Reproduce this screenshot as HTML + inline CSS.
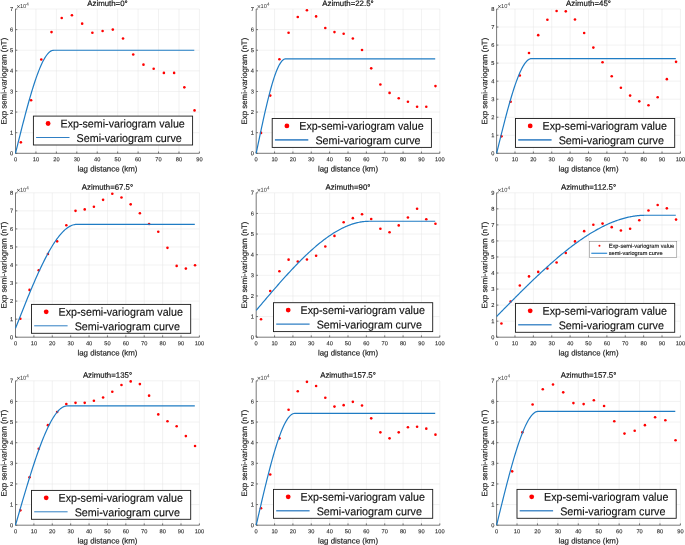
<!DOCTYPE html>
<html lang="en">
<head>
<meta charset="utf-8">
<title>Experimental semi-variograms by azimuth</title>
<style>
html,body{margin:0;padding:0;background:#fff;}
body{width:685px;height:545px;overflow:hidden;}
svg{display:block;will-change:transform;}
text{font-family:"Liberation Sans", Arial, sans-serif;fill:#262626;text-rendering:geometricPrecision;}
.tk{font-size:5.7px;stroke:#262626;stroke-width:0.1px;}
.ex{font-size:5.7px;fill:#333;}
.ti{font-size:7.85px;fill:#111;stroke:#111;stroke-width:0.18px;}
.lb{font-size:7.9px;stroke:#262626;stroke-width:0.18px;}
.lg{font-size:11.3px;fill:#111;stroke:#111;stroke-width:0.15px;}
.sl{font-size:5.6px;fill:#111;stroke:#111;stroke-width:0.14px;}
</style>
</head>
<body>
<svg width="685" height="545" viewBox="0 0 685 545">
<rect width="685" height="545" fill="#fff"/>
<g>
<path d="M35.93 9V153.3M56.37 9V153.3M76.8 9V153.3M97.23 9V153.3M117.67 9V153.3M138.1 9V153.3M158.53 9V153.3M178.97 9V153.3M199.4 9V153.3M15.5 132.69H199.4M15.5 112.07H199.4M15.5 91.46H199.4M15.5 70.84H199.4M15.5 50.23H199.4M15.5 29.61H199.4M15.5 9H199.4" stroke="#e4e4e4" stroke-width="0.5" fill="none"/>
<path d="M15.5 9V153.3H199.4M15.5 153.3v-1.8M35.93 153.3v-1.8M56.37 153.3v-1.8M76.8 153.3v-1.8M97.23 153.3v-1.8M117.67 153.3v-1.8M138.1 153.3v-1.8M158.53 153.3v-1.8M178.97 153.3v-1.8M199.4 153.3v-1.8M15.5 153.3h1.8M15.5 132.69h1.8M15.5 112.07h1.8M15.5 91.46h1.8M15.5 70.84h1.8M15.5 50.23h1.8M15.5 29.61h1.8M15.5 9h1.8" stroke="#555555" stroke-width="0.8" fill="none"/>
<text transform="translate(15.5 161.3) rotate(.03)" text-anchor="middle" class="tk">0</text>
<text transform="translate(35.93 161.3) rotate(.03)" text-anchor="middle" class="tk">10</text>
<text transform="translate(56.37 161.3) rotate(.03)" text-anchor="middle" class="tk">20</text>
<text transform="translate(76.8 161.3) rotate(.03)" text-anchor="middle" class="tk">30</text>
<text transform="translate(97.23 161.3) rotate(.03)" text-anchor="middle" class="tk">40</text>
<text transform="translate(117.67 161.3) rotate(.03)" text-anchor="middle" class="tk">50</text>
<text transform="translate(138.1 161.3) rotate(.03)" text-anchor="middle" class="tk">60</text>
<text transform="translate(158.53 161.3) rotate(.03)" text-anchor="middle" class="tk">70</text>
<text transform="translate(178.97 161.3) rotate(.03)" text-anchor="middle" class="tk">80</text>
<text transform="translate(199.4 161.3) rotate(.03)" text-anchor="middle" class="tk">90</text>
<text transform="translate(13.2 155.3) rotate(.03)" text-anchor="end" class="tk">0</text>
<text transform="translate(13.2 134.69) rotate(.03)" text-anchor="end" class="tk">1</text>
<text transform="translate(13.2 114.07) rotate(.03)" text-anchor="end" class="tk">2</text>
<text transform="translate(13.2 93.46) rotate(.03)" text-anchor="end" class="tk">3</text>
<text transform="translate(13.2 72.84) rotate(.03)" text-anchor="end" class="tk">4</text>
<text transform="translate(13.2 52.23) rotate(.03)" text-anchor="end" class="tk">5</text>
<text transform="translate(13.2 31.61) rotate(.03)" text-anchor="end" class="tk">6</text>
<text transform="translate(13.2 11) rotate(.03)" text-anchor="end" class="tk">7</text>
<text transform="translate(16.4 8) rotate(.03)" class="ex"><tspan font-size="6.6" dy="0.75">×</tspan><tspan dy="-0.75" dx="-0.35">10</tspan><tspan dy="-2.3" dx="0.1" font-size="4.6">4</tspan></text>
<text transform="translate(107.45 5.9) rotate(.03)" text-anchor="middle" class="ti">Azimuth=0°</text>
<text transform="translate(107.45 171.6) rotate(.03)" text-anchor="middle" class="lb">lag distance (km)</text>
<text transform="translate(6.5 81.15) rotate(-89.97)" text-anchor="middle" class="lb">Exp semi-variogram (nT)</text>
<circle cx="20.86" cy="142.37" r="1.3" fill="#ff0000"/>
<circle cx="31.08" cy="100.32" r="1.3" fill="#ff0000"/>
<circle cx="41.29" cy="59.5" r="1.3" fill="#ff0000"/>
<circle cx="51.51" cy="32.09" r="1.3" fill="#ff0000"/>
<circle cx="61.73" cy="18.07" r="1.3" fill="#ff0000"/>
<circle cx="71.94" cy="15.18" r="1.3" fill="#ff0000"/>
<circle cx="82.16" cy="23.64" r="1.3" fill="#ff0000"/>
<circle cx="92.38" cy="32.71" r="1.3" fill="#ff0000"/>
<circle cx="102.59" cy="31.06" r="1.3" fill="#ff0000"/>
<circle cx="112.81" cy="29.61" r="1.3" fill="#ff0000"/>
<circle cx="123.03" cy="38.48" r="1.3" fill="#ff0000"/>
<circle cx="133.24" cy="54.56" r="1.3" fill="#ff0000"/>
<circle cx="143.46" cy="64.66" r="1.3" fill="#ff0000"/>
<circle cx="153.68" cy="68.78" r="1.3" fill="#ff0000"/>
<circle cx="163.89" cy="72.9" r="1.3" fill="#ff0000"/>
<circle cx="174.11" cy="72.9" r="1.3" fill="#ff0000"/>
<circle cx="184.33" cy="87.33" r="1.3" fill="#ff0000"/>
<circle cx="194.54" cy="110.42" r="1.3" fill="#ff0000"/>
<polyline points="15.5,153.3 16.39,149.68 17.29,146.07 18.18,142.47 19.08,138.87 19.97,135.3 20.86,131.74 21.76,128.21 22.65,124.7 23.55,121.23 24.44,117.79 25.33,114.39 26.23,111.03 27.12,107.73 28.02,104.47 28.91,101.27 29.8,98.13 30.7,95.05 31.59,92.04 32.49,89.1 33.38,86.24 34.27,83.45 35.17,80.75 36.06,78.14 36.95,75.61 37.85,73.18 38.74,70.85 39.64,68.63 40.53,66.51 41.42,64.5 42.32,62.6 43.21,60.83 44.11,59.18 45,57.65 45.89,56.26 46.79,55 47.68,53.87 48.58,52.89 49.47,52.06 50.36,51.38 51.26,50.85 52.15,50.48 53.05,50.28 53.94,50.23 54.83,50.23 55.73,50.23 56.62,50.23 57.52,50.23 58.41,50.23 59.3,50.23 60.2,50.23 61.09,50.23 61.99,50.23 62.88,50.23 63.77,50.23 64.67,50.23 65.56,50.23 66.46,50.23 67.35,50.23 68.24,50.23 69.14,50.23 70.03,50.23 70.93,50.23 71.82,50.23 72.71,50.23 73.61,50.23 74.5,50.23 75.4,50.23 76.29,50.23 77.18,50.23 78.08,50.23 78.97,50.23 79.87,50.23 80.76,50.23 81.65,50.23 82.55,50.23 83.44,50.23 84.33,50.23 85.23,50.23 86.12,50.23 87.02,50.23 87.91,50.23 88.8,50.23 89.7,50.23 90.59,50.23 91.49,50.23 92.38,50.23 93.27,50.23 94.17,50.23 95.06,50.23 95.96,50.23 96.85,50.23 97.74,50.23 98.64,50.23 99.53,50.23 100.43,50.23 101.32,50.23 102.21,50.23 103.11,50.23 104,50.23 104.9,50.23 105.79,50.23 106.68,50.23 107.58,50.23 108.47,50.23 109.37,50.23 110.26,50.23 111.15,50.23 112.05,50.23 112.94,50.23 113.84,50.23 114.73,50.23 115.62,50.23 116.52,50.23 117.41,50.23 118.31,50.23 119.2,50.23 120.09,50.23 120.99,50.23 121.88,50.23 122.78,50.23 123.67,50.23 124.56,50.23 125.46,50.23 126.35,50.23 127.24,50.23 128.14,50.23 129.03,50.23 129.93,50.23 130.82,50.23 131.71,50.23 132.61,50.23 133.5,50.23 134.4,50.23 135.29,50.23 136.18,50.23 137.08,50.23 137.97,50.23 138.87,50.23 139.76,50.23 140.65,50.23 141.55,50.23 142.44,50.23 143.34,50.23 144.23,50.23 145.12,50.23 146.02,50.23 146.91,50.23 147.81,50.23 148.7,50.23 149.59,50.23 150.49,50.23 151.38,50.23 152.28,50.23 153.17,50.23 154.06,50.23 154.96,50.23 155.85,50.23 156.75,50.23 157.64,50.23 158.53,50.23 159.43,50.23 160.32,50.23 161.22,50.23 162.11,50.23 163,50.23 163.9,50.23 164.79,50.23 165.69,50.23 166.58,50.23 167.47,50.23 168.37,50.23 169.26,50.23 170.15,50.23 171.05,50.23 171.94,50.23 172.84,50.23 173.73,50.23 174.62,50.23 175.52,50.23 176.41,50.23 177.31,50.23 178.2,50.23 179.09,50.23 179.99,50.23 180.88,50.23 181.78,50.23 182.67,50.23 183.56,50.23 184.46,50.23 185.35,50.23 186.25,50.23 187.14,50.23 188.03,50.23 188.93,50.23 189.82,50.23 190.72,50.23 191.61,50.23 192.5,50.23 193.4,50.23 194.29,50.23" fill="none" stroke="#1f7cc4" stroke-width="1.2" stroke-linejoin="round"/>
<rect x="33.4" y="116.1" width="159.2" height="28.9" fill="#fff" stroke="#1a1a1a" stroke-width="0.9"/>
<circle cx="48.1" cy="123.5" r="2.4" fill="#ff0000"/>
<path d="M36.1 137.5h33.4" stroke="#2f7fc4" stroke-width="1.0"/>
<text transform="translate(60.5 127.4) rotate(.03)" class="lg" textLength="124.3" lengthAdjust="spacingAndGlyphs">Exp-semi-variogram value</text>
<text transform="translate(76.6 141.9) rotate(.03)" class="lg" textLength="105.2" lengthAdjust="spacingAndGlyphs">Semi-variogram curve</text>
</g>
<g>
<path d="M274.56 9V153.3M292.92 9V153.3M311.28 9V153.3M329.64 9V153.3M348 9V153.3M366.36 9V153.3M384.72 9V153.3M403.08 9V153.3M421.44 9V153.3M439.8 9V153.3M256.2 132.69H439.8M256.2 112.07H439.8M256.2 91.46H439.8M256.2 70.84H439.8M256.2 50.23H439.8M256.2 29.61H439.8M256.2 9H439.8" stroke="#e4e4e4" stroke-width="0.5" fill="none"/>
<path d="M256.2 9V153.3H439.8M256.2 153.3v-1.8M274.56 153.3v-1.8M292.92 153.3v-1.8M311.28 153.3v-1.8M329.64 153.3v-1.8M348 153.3v-1.8M366.36 153.3v-1.8M384.72 153.3v-1.8M403.08 153.3v-1.8M421.44 153.3v-1.8M439.8 153.3v-1.8M256.2 153.3h1.8M256.2 132.69h1.8M256.2 112.07h1.8M256.2 91.46h1.8M256.2 70.84h1.8M256.2 50.23h1.8M256.2 29.61h1.8M256.2 9h1.8" stroke="#555555" stroke-width="0.8" fill="none"/>
<text transform="translate(256.2 161.3) rotate(.03)" text-anchor="middle" class="tk">0</text>
<text transform="translate(274.56 161.3) rotate(.03)" text-anchor="middle" class="tk">10</text>
<text transform="translate(292.92 161.3) rotate(.03)" text-anchor="middle" class="tk">20</text>
<text transform="translate(311.28 161.3) rotate(.03)" text-anchor="middle" class="tk">30</text>
<text transform="translate(329.64 161.3) rotate(.03)" text-anchor="middle" class="tk">40</text>
<text transform="translate(348 161.3) rotate(.03)" text-anchor="middle" class="tk">50</text>
<text transform="translate(366.36 161.3) rotate(.03)" text-anchor="middle" class="tk">60</text>
<text transform="translate(384.72 161.3) rotate(.03)" text-anchor="middle" class="tk">70</text>
<text transform="translate(403.08 161.3) rotate(.03)" text-anchor="middle" class="tk">80</text>
<text transform="translate(421.44 161.3) rotate(.03)" text-anchor="middle" class="tk">90</text>
<text transform="translate(439.8 161.3) rotate(.03)" text-anchor="middle" class="tk">100</text>
<text transform="translate(253.9 155.3) rotate(.03)" text-anchor="end" class="tk">0</text>
<text transform="translate(253.9 134.69) rotate(.03)" text-anchor="end" class="tk">1</text>
<text transform="translate(253.9 114.07) rotate(.03)" text-anchor="end" class="tk">2</text>
<text transform="translate(253.9 93.46) rotate(.03)" text-anchor="end" class="tk">3</text>
<text transform="translate(253.9 72.84) rotate(.03)" text-anchor="end" class="tk">4</text>
<text transform="translate(253.9 52.23) rotate(.03)" text-anchor="end" class="tk">5</text>
<text transform="translate(253.9 31.61) rotate(.03)" text-anchor="end" class="tk">6</text>
<text transform="translate(253.9 11) rotate(.03)" text-anchor="end" class="tk">7</text>
<text transform="translate(257.1 8) rotate(.03)" class="ex"><tspan font-size="6.6" dy="0.75">×</tspan><tspan dy="-0.75" dx="-0.35">10</tspan><tspan dy="-2.3" dx="0.1" font-size="4.6">4</tspan></text>
<text transform="translate(348 5.9) rotate(.03)" text-anchor="middle" class="ti">Azimuth=22.5°</text>
<text transform="translate(348 171.6) rotate(.03)" text-anchor="middle" class="lb">lag distance (km)</text>
<text transform="translate(247.05 81.15) rotate(-89.97)" text-anchor="middle" class="lb">Exp semi-variogram (nT)</text>
<circle cx="261.04" cy="132.89" r="1.3" fill="#ff0000"/>
<circle cx="270.22" cy="95.58" r="1.3" fill="#ff0000"/>
<circle cx="279.4" cy="59.3" r="1.3" fill="#ff0000"/>
<circle cx="288.58" cy="32.71" r="1.3" fill="#ff0000"/>
<circle cx="297.76" cy="17.04" r="1.3" fill="#ff0000"/>
<circle cx="306.94" cy="10.24" r="1.3" fill="#ff0000"/>
<circle cx="316.12" cy="16.42" r="1.3" fill="#ff0000"/>
<circle cx="325.3" cy="27.97" r="1.3" fill="#ff0000"/>
<circle cx="334.48" cy="32.09" r="1.3" fill="#ff0000"/>
<circle cx="343.66" cy="33.74" r="1.3" fill="#ff0000"/>
<circle cx="352.84" cy="38.48" r="1.3" fill="#ff0000"/>
<circle cx="362.02" cy="50.02" r="1.3" fill="#ff0000"/>
<circle cx="371.2" cy="68.37" r="1.3" fill="#ff0000"/>
<circle cx="380.38" cy="84.45" r="1.3" fill="#ff0000"/>
<circle cx="389.56" cy="92.9" r="1.3" fill="#ff0000"/>
<circle cx="398.74" cy="98.26" r="1.3" fill="#ff0000"/>
<circle cx="407.92" cy="101.76" r="1.3" fill="#ff0000"/>
<circle cx="417.1" cy="106.71" r="1.3" fill="#ff0000"/>
<circle cx="426.28" cy="106.71" r="1.3" fill="#ff0000"/>
<circle cx="435.46" cy="86.1" r="1.3" fill="#ff0000"/>
<polyline points="256.2,153.3 257.1,148.99 257.99,144.68 258.89,140.39 259.78,136.13 260.68,131.89 261.57,127.7 262.47,123.55 263.36,119.46 264.26,115.44 265.15,111.49 266.05,107.61 266.94,103.83 267.84,100.14 268.73,96.55 269.63,93.08 270.52,89.73 271.42,86.51 272.31,83.42 273.21,80.47 274.1,77.68 275,75.05 275.89,72.59 276.79,70.3 277.68,68.2 278.58,66.29 279.47,64.58 280.37,63.08 281.26,61.79 282.16,60.73 283.05,59.9 283.95,59.31 284.84,58.97 285.74,58.89 286.63,58.89 287.53,58.89 288.42,58.89 289.32,58.89 290.21,58.89 291.11,58.89 292,58.89 292.9,58.89 293.79,58.89 294.69,58.89 295.58,58.89 296.48,58.89 297.37,58.89 298.27,58.89 299.16,58.89 300.06,58.89 300.95,58.89 301.85,58.89 302.74,58.89 303.64,58.89 304.53,58.89 305.43,58.89 306.32,58.89 307.22,58.89 308.11,58.89 309.01,58.89 309.9,58.89 310.8,58.89 311.69,58.89 312.59,58.89 313.48,58.89 314.38,58.89 315.27,58.89 316.17,58.89 317.06,58.89 317.96,58.89 318.85,58.89 319.75,58.89 320.64,58.89 321.54,58.89 322.43,58.89 323.33,58.89 324.22,58.89 325.12,58.89 326.01,58.89 326.91,58.89 327.8,58.89 328.7,58.89 329.59,58.89 330.49,58.89 331.38,58.89 332.28,58.89 333.17,58.89 334.07,58.89 334.96,58.89 335.86,58.89 336.75,58.89 337.65,58.89 338.54,58.89 339.44,58.89 340.33,58.89 341.23,58.89 342.12,58.89 343.02,58.89 343.91,58.89 344.81,58.89 345.7,58.89 346.6,58.89 347.5,58.89 348.39,58.89 349.29,58.89 350.18,58.89 351.08,58.89 351.97,58.89 352.87,58.89 353.76,58.89 354.66,58.89 355.55,58.89 356.45,58.89 357.34,58.89 358.24,58.89 359.13,58.89 360.03,58.89 360.92,58.89 361.82,58.89 362.71,58.89 363.61,58.89 364.5,58.89 365.4,58.89 366.29,58.89 367.19,58.89 368.08,58.89 368.98,58.89 369.87,58.89 370.77,58.89 371.66,58.89 372.56,58.89 373.45,58.89 374.35,58.89 375.24,58.89 376.14,58.89 377.03,58.89 377.93,58.89 378.82,58.89 379.72,58.89 380.61,58.89 381.51,58.89 382.4,58.89 383.3,58.89 384.19,58.89 385.09,58.89 385.98,58.89 386.88,58.89 387.77,58.89 388.67,58.89 389.56,58.89 390.46,58.89 391.35,58.89 392.25,58.89 393.14,58.89 394.04,58.89 394.93,58.89 395.83,58.89 396.72,58.89 397.62,58.89 398.51,58.89 399.41,58.89 400.3,58.89 401.2,58.89 402.09,58.89 402.99,58.89 403.88,58.89 404.78,58.89 405.67,58.89 406.57,58.89 407.46,58.89 408.36,58.89 409.25,58.89 410.15,58.89 411.04,58.89 411.94,58.89 412.83,58.89 413.73,58.89 414.62,58.89 415.52,58.89 416.41,58.89 417.31,58.89 418.2,58.89 419.1,58.89 419.99,58.89 420.89,58.89 421.78,58.89 422.68,58.89 423.57,58.89 424.47,58.89 425.36,58.89 426.26,58.89 427.15,58.89 428.05,58.89 428.94,58.89 429.84,58.89 430.73,58.89 431.63,58.89 432.52,58.89 433.42,58.89 434.31,58.89 435.21,58.89" fill="none" stroke="#1f7cc4" stroke-width="1.2" stroke-linejoin="round"/>
<rect x="272.2" y="118.5" width="159.2" height="28.9" fill="#fff" stroke="#1a1a1a" stroke-width="0.9"/>
<circle cx="286.9" cy="125.9" r="2.4" fill="#ff0000"/>
<path d="M274.9 139.9h33.4" stroke="#4d8fcb" stroke-width="1.7"/>
<text transform="translate(299.3 129.8) rotate(.03)" class="lg" textLength="124.3" lengthAdjust="spacingAndGlyphs">Exp-semi-variogram value</text>
<text transform="translate(315.4 144.3) rotate(.03)" class="lg" textLength="105.2" lengthAdjust="spacingAndGlyphs">Semi-variogram curve</text>
</g>
<g>
<path d="M514.98 9V153.3M533.36 9V153.3M551.74 9V153.3M570.12 9V153.3M588.5 9V153.3M606.88 9V153.3M625.26 9V153.3M643.64 9V153.3M662.02 9V153.3M680.4 9V153.3M496.6 135.26H680.4M496.6 117.23H680.4M496.6 99.19H680.4M496.6 81.15H680.4M496.6 63.11H680.4M496.6 45.08H680.4M496.6 27.04H680.4M496.6 9H680.4" stroke="#e4e4e4" stroke-width="0.5" fill="none"/>
<path d="M496.6 9V153.3H680.4M496.6 153.3v-1.8M514.98 153.3v-1.8M533.36 153.3v-1.8M551.74 153.3v-1.8M570.12 153.3v-1.8M588.5 153.3v-1.8M606.88 153.3v-1.8M625.26 153.3v-1.8M643.64 153.3v-1.8M662.02 153.3v-1.8M680.4 153.3v-1.8M496.6 153.3h1.8M496.6 135.26h1.8M496.6 117.23h1.8M496.6 99.19h1.8M496.6 81.15h1.8M496.6 63.11h1.8M496.6 45.08h1.8M496.6 27.04h1.8M496.6 9h1.8" stroke="#555555" stroke-width="0.8" fill="none"/>
<text transform="translate(496.6 161.3) rotate(.03)" text-anchor="middle" class="tk">0</text>
<text transform="translate(514.98 161.3) rotate(.03)" text-anchor="middle" class="tk">10</text>
<text transform="translate(533.36 161.3) rotate(.03)" text-anchor="middle" class="tk">20</text>
<text transform="translate(551.74 161.3) rotate(.03)" text-anchor="middle" class="tk">30</text>
<text transform="translate(570.12 161.3) rotate(.03)" text-anchor="middle" class="tk">40</text>
<text transform="translate(588.5 161.3) rotate(.03)" text-anchor="middle" class="tk">50</text>
<text transform="translate(606.88 161.3) rotate(.03)" text-anchor="middle" class="tk">60</text>
<text transform="translate(625.26 161.3) rotate(.03)" text-anchor="middle" class="tk">70</text>
<text transform="translate(643.64 161.3) rotate(.03)" text-anchor="middle" class="tk">80</text>
<text transform="translate(662.02 161.3) rotate(.03)" text-anchor="middle" class="tk">90</text>
<text transform="translate(680.4 161.3) rotate(.03)" text-anchor="middle" class="tk">100</text>
<text transform="translate(494.3 155.3) rotate(.03)" text-anchor="end" class="tk">0</text>
<text transform="translate(494.3 137.26) rotate(.03)" text-anchor="end" class="tk">1</text>
<text transform="translate(494.3 119.23) rotate(.03)" text-anchor="end" class="tk">2</text>
<text transform="translate(494.3 101.19) rotate(.03)" text-anchor="end" class="tk">3</text>
<text transform="translate(494.3 83.15) rotate(.03)" text-anchor="end" class="tk">4</text>
<text transform="translate(494.3 65.11) rotate(.03)" text-anchor="end" class="tk">5</text>
<text transform="translate(494.3 47.08) rotate(.03)" text-anchor="end" class="tk">6</text>
<text transform="translate(494.3 29.04) rotate(.03)" text-anchor="end" class="tk">7</text>
<text transform="translate(494.3 11) rotate(.03)" text-anchor="end" class="tk">8</text>
<text transform="translate(497.5 8) rotate(.03)" class="ex"><tspan font-size="6.6" dy="0.75">×</tspan><tspan dy="-0.75" dx="-0.35">10</tspan><tspan dy="-2.3" dx="0.1" font-size="4.6">4</tspan></text>
<text transform="translate(588.5 5.9) rotate(.03)" text-anchor="middle" class="ti">Azimuth=45°</text>
<text transform="translate(588.5 171.6) rotate(.03)" text-anchor="middle" class="lb">lag distance (km)</text>
<text transform="translate(487.2 81.15) rotate(-89.97)" text-anchor="middle" class="lb">Exp semi-variogram (nT)</text>
<circle cx="501.45" cy="136.34" r="1.3" fill="#ff0000"/>
<circle cx="510.63" cy="101.71" r="1.3" fill="#ff0000"/>
<circle cx="519.83" cy="75.56" r="1.3" fill="#ff0000"/>
<circle cx="529.01" cy="53.01" r="1.3" fill="#ff0000"/>
<circle cx="538.21" cy="35.15" r="1.3" fill="#ff0000"/>
<circle cx="547.39" cy="19.82" r="1.3" fill="#ff0000"/>
<circle cx="556.59" cy="10.98" r="1.3" fill="#ff0000"/>
<circle cx="565.77" cy="11.34" r="1.3" fill="#ff0000"/>
<circle cx="574.97" cy="19.46" r="1.3" fill="#ff0000"/>
<circle cx="584.15" cy="32.99" r="1.3" fill="#ff0000"/>
<circle cx="593.35" cy="47.6" r="1.3" fill="#ff0000"/>
<circle cx="602.53" cy="62.21" r="1.3" fill="#ff0000"/>
<circle cx="611.73" cy="76.28" r="1.3" fill="#ff0000"/>
<circle cx="620.91" cy="87.82" r="1.3" fill="#ff0000"/>
<circle cx="630.11" cy="95.58" r="1.3" fill="#ff0000"/>
<circle cx="639.29" cy="101.35" r="1.3" fill="#ff0000"/>
<circle cx="648.49" cy="105.32" r="1.3" fill="#ff0000"/>
<circle cx="657.67" cy="97.2" r="1.3" fill="#ff0000"/>
<circle cx="666.87" cy="79.17" r="1.3" fill="#ff0000"/>
<circle cx="676.05" cy="61.85" r="1.3" fill="#ff0000"/>
<polyline points="496.6,153.3 497.5,149.66 498.39,146.02 499.29,142.39 500.18,138.77 501.08,135.18 501.98,131.61 502.87,128.06 503.77,124.55 504.66,121.08 505.56,117.65 506.46,114.27 507.35,110.95 508.25,107.68 509.14,104.47 510.04,101.33 510.94,98.26 511.83,95.27 512.73,92.36 513.62,89.54 514.52,86.81 515.42,84.17 516.31,81.64 517.21,79.21 518.1,76.89 519,74.68 519.9,72.6 520.79,70.64 521.69,68.81 522.58,67.11 523.48,65.56 524.38,64.14 525.27,62.88 526.17,61.77 527.06,60.82 527.96,60.03 528.86,59.41 529.75,58.96 530.65,58.69 531.54,58.6 532.44,58.6 533.34,58.6 534.23,58.6 535.13,58.6 536.03,58.6 536.92,58.6 537.82,58.6 538.71,58.6 539.61,58.6 540.51,58.6 541.4,58.6 542.3,58.6 543.19,58.6 544.09,58.6 544.99,58.6 545.88,58.6 546.78,58.6 547.67,58.6 548.57,58.6 549.47,58.6 550.36,58.6 551.26,58.6 552.15,58.6 553.05,58.6 553.95,58.6 554.84,58.6 555.74,58.6 556.63,58.6 557.53,58.6 558.43,58.6 559.32,58.6 560.22,58.6 561.11,58.6 562.01,58.6 562.91,58.6 563.8,58.6 564.7,58.6 565.59,58.6 566.49,58.6 567.39,58.6 568.28,58.6 569.18,58.6 570.07,58.6 570.97,58.6 571.87,58.6 572.76,58.6 573.66,58.6 574.55,58.6 575.45,58.6 576.35,58.6 577.24,58.6 578.14,58.6 579.03,58.6 579.93,58.6 580.83,58.6 581.72,58.6 582.62,58.6 583.51,58.6 584.41,58.6 585.31,58.6 586.2,58.6 587.1,58.6 587.99,58.6 588.89,58.6 589.79,58.6 590.68,58.6 591.58,58.6 592.47,58.6 593.37,58.6 594.27,58.6 595.16,58.6 596.06,58.6 596.95,58.6 597.85,58.6 598.75,58.6 599.64,58.6 600.54,58.6 601.43,58.6 602.33,58.6 603.23,58.6 604.12,58.6 605.02,58.6 605.92,58.6 606.81,58.6 607.71,58.6 608.6,58.6 609.5,58.6 610.4,58.6 611.29,58.6 612.19,58.6 613.08,58.6 613.98,58.6 614.88,58.6 615.77,58.6 616.67,58.6 617.56,58.6 618.46,58.6 619.36,58.6 620.25,58.6 621.15,58.6 622.04,58.6 622.94,58.6 623.84,58.6 624.73,58.6 625.63,58.6 626.52,58.6 627.42,58.6 628.32,58.6 629.21,58.6 630.11,58.6 631,58.6 631.9,58.6 632.8,58.6 633.69,58.6 634.59,58.6 635.48,58.6 636.38,58.6 637.28,58.6 638.17,58.6 639.07,58.6 639.96,58.6 640.86,58.6 641.76,58.6 642.65,58.6 643.55,58.6 644.44,58.6 645.34,58.6 646.24,58.6 647.13,58.6 648.03,58.6 648.92,58.6 649.82,58.6 650.72,58.6 651.61,58.6 652.51,58.6 653.4,58.6 654.3,58.6 655.2,58.6 656.09,58.6 656.99,58.6 657.88,58.6 658.78,58.6 659.68,58.6 660.57,58.6 661.47,58.6 662.36,58.6 663.26,58.6 664.16,58.6 665.05,58.6 665.95,58.6 666.84,58.6 667.74,58.6 668.64,58.6 669.53,58.6 670.43,58.6 671.32,58.6 672.22,58.6 673.12,58.6 674.01,58.6 674.91,58.6 675.8,58.6" fill="none" stroke="#1f7cc4" stroke-width="1.2" stroke-linejoin="round"/>
<rect x="515.5" y="118.5" width="159.2" height="28.9" fill="#fff" stroke="#1a1a1a" stroke-width="0.9"/>
<circle cx="530.2" cy="125.9" r="2.4" fill="#ff0000"/>
<path d="M518.2 139.9h33.4" stroke="#4d8fcb" stroke-width="1.7"/>
<text transform="translate(542.6 129.8) rotate(.03)" class="lg" textLength="124.3" lengthAdjust="spacingAndGlyphs">Exp-semi-variogram value</text>
<text transform="translate(558.7 144.3) rotate(.03)" class="lg" textLength="105.2" lengthAdjust="spacingAndGlyphs">Semi-variogram curve</text>
</g>
<g>
<path d="M33.89 192.8V337.2M52.28 192.8V337.2M70.67 192.8V337.2M89.06 192.8V337.2M107.45 192.8V337.2M125.84 192.8V337.2M144.23 192.8V337.2M162.62 192.8V337.2M181.01 192.8V337.2M199.4 192.8V337.2M15.5 319.15H199.4M15.5 301.1H199.4M15.5 283.05H199.4M15.5 265H199.4M15.5 246.95H199.4M15.5 228.9H199.4M15.5 210.85H199.4M15.5 192.8H199.4" stroke="#e4e4e4" stroke-width="0.5" fill="none"/>
<path d="M15.5 192.8V337.2H199.4M15.5 337.2v-1.8M33.89 337.2v-1.8M52.28 337.2v-1.8M70.67 337.2v-1.8M89.06 337.2v-1.8M107.45 337.2v-1.8M125.84 337.2v-1.8M144.23 337.2v-1.8M162.62 337.2v-1.8M181.01 337.2v-1.8M199.4 337.2v-1.8M15.5 337.2h1.8M15.5 319.15h1.8M15.5 301.1h1.8M15.5 283.05h1.8M15.5 265h1.8M15.5 246.95h1.8M15.5 228.9h1.8M15.5 210.85h1.8M15.5 192.8h1.8" stroke="#555555" stroke-width="0.8" fill="none"/>
<text transform="translate(15.5 345.2) rotate(.03)" text-anchor="middle" class="tk">0</text>
<text transform="translate(33.89 345.2) rotate(.03)" text-anchor="middle" class="tk">10</text>
<text transform="translate(52.28 345.2) rotate(.03)" text-anchor="middle" class="tk">20</text>
<text transform="translate(70.67 345.2) rotate(.03)" text-anchor="middle" class="tk">30</text>
<text transform="translate(89.06 345.2) rotate(.03)" text-anchor="middle" class="tk">40</text>
<text transform="translate(107.45 345.2) rotate(.03)" text-anchor="middle" class="tk">50</text>
<text transform="translate(125.84 345.2) rotate(.03)" text-anchor="middle" class="tk">60</text>
<text transform="translate(144.23 345.2) rotate(.03)" text-anchor="middle" class="tk">70</text>
<text transform="translate(162.62 345.2) rotate(.03)" text-anchor="middle" class="tk">80</text>
<text transform="translate(181.01 345.2) rotate(.03)" text-anchor="middle" class="tk">90</text>
<text transform="translate(199.4 345.2) rotate(.03)" text-anchor="middle" class="tk">100</text>
<text transform="translate(13.2 339.2) rotate(.03)" text-anchor="end" class="tk">0</text>
<text transform="translate(13.2 321.15) rotate(.03)" text-anchor="end" class="tk">1</text>
<text transform="translate(13.2 303.1) rotate(.03)" text-anchor="end" class="tk">2</text>
<text transform="translate(13.2 285.05) rotate(.03)" text-anchor="end" class="tk">3</text>
<text transform="translate(13.2 267) rotate(.03)" text-anchor="end" class="tk">4</text>
<text transform="translate(13.2 248.95) rotate(.03)" text-anchor="end" class="tk">5</text>
<text transform="translate(13.2 230.9) rotate(.03)" text-anchor="end" class="tk">6</text>
<text transform="translate(13.2 212.85) rotate(.03)" text-anchor="end" class="tk">7</text>
<text transform="translate(13.2 194.8) rotate(.03)" text-anchor="end" class="tk">8</text>
<text transform="translate(16.4 191.8) rotate(.03)" class="ex"><tspan font-size="6.6" dy="0.75">×</tspan><tspan dy="-0.75" dx="-0.35">10</tspan><tspan dy="-2.3" dx="0.1" font-size="4.6">4</tspan></text>
<text transform="translate(107.45 189.7) rotate(.03)" text-anchor="middle" class="ti">Azimuth=67.5°</text>
<text transform="translate(107.45 355.5) rotate(.03)" text-anchor="middle" class="lb">lag distance (km)</text>
<text transform="translate(6.5 265) rotate(-89.97)" text-anchor="middle" class="lb">Exp semi-variogram (nT)</text>
<circle cx="20.35" cy="318.79" r="1.3" fill="#ff0000"/>
<circle cx="29.54" cy="289.91" r="1.3" fill="#ff0000"/>
<circle cx="38.74" cy="270.23" r="1.3" fill="#ff0000"/>
<circle cx="47.93" cy="253.99" r="1.3" fill="#ff0000"/>
<circle cx="57.13" cy="241.35" r="1.3" fill="#ff0000"/>
<circle cx="66.32" cy="225.29" r="1.3" fill="#ff0000"/>
<circle cx="75.52" cy="210.85" r="1.3" fill="#ff0000"/>
<circle cx="84.71" cy="209.41" r="1.3" fill="#ff0000"/>
<circle cx="93.91" cy="206.7" r="1.3" fill="#ff0000"/>
<circle cx="103.1" cy="199.84" r="1.3" fill="#ff0000"/>
<circle cx="112.3" cy="193.7" r="1.3" fill="#ff0000"/>
<circle cx="121.49" cy="197.49" r="1.3" fill="#ff0000"/>
<circle cx="130.69" cy="204.35" r="1.3" fill="#ff0000"/>
<circle cx="139.88" cy="213.2" r="1.3" fill="#ff0000"/>
<circle cx="149.08" cy="224.03" r="1.3" fill="#ff0000"/>
<circle cx="158.27" cy="231.79" r="1.3" fill="#ff0000"/>
<circle cx="167.47" cy="247.85" r="1.3" fill="#ff0000"/>
<circle cx="176.66" cy="265.9" r="1.3" fill="#ff0000"/>
<circle cx="185.86" cy="268.61" r="1.3" fill="#ff0000"/>
<circle cx="195.05" cy="265.18" r="1.3" fill="#ff0000"/>
<polyline points="15.5,328.36 16.4,326.07 17.29,323.79 18.19,321.51 19.09,319.23 19.98,316.96 20.88,314.69 21.78,312.43 22.67,310.17 23.57,307.93 24.47,305.69 25.36,303.46 26.26,301.24 27.15,299.03 28.05,296.84 28.95,294.66 29.84,292.49 30.74,290.34 31.64,288.21 32.53,286.1 33.43,284 34.33,281.92 35.22,279.86 36.12,277.83 37.02,275.82 37.91,273.83 38.81,271.86 39.71,269.92 40.6,268.01 41.5,266.12 42.4,264.27 43.29,262.44 44.19,260.64 45.08,258.88 45.98,257.14 46.88,255.44 47.77,253.77 48.67,252.14 49.57,250.55 50.46,248.99 51.36,247.47 52.26,245.99 53.15,244.55 54.05,243.15 54.95,241.79 55.84,240.48 56.74,239.21 57.64,237.98 58.53,236.81 59.43,235.67 60.33,234.59 61.22,233.55 62.12,232.57 63.02,231.63 63.91,230.75 64.81,229.92 65.7,229.15 66.6,228.43 67.5,227.76 68.39,227.15 69.29,226.6 70.19,226.11 71.08,225.68 71.98,225.3 72.88,224.99 73.77,224.75 74.67,224.56 75.57,224.44 76.46,224.39 77.36,224.39 78.26,224.39 79.15,224.39 80.05,224.39 80.95,224.39 81.84,224.39 82.74,224.39 83.63,224.39 84.53,224.39 85.43,224.39 86.32,224.39 87.22,224.39 88.12,224.39 89.01,224.39 89.91,224.39 90.81,224.39 91.7,224.39 92.6,224.39 93.5,224.39 94.39,224.39 95.29,224.39 96.19,224.39 97.08,224.39 97.98,224.39 98.88,224.39 99.77,224.39 100.67,224.39 101.57,224.39 102.46,224.39 103.36,224.39 104.25,224.39 105.15,224.39 106.05,224.39 106.94,224.39 107.84,224.39 108.74,224.39 109.63,224.39 110.53,224.39 111.43,224.39 112.32,224.39 113.22,224.39 114.12,224.39 115.01,224.39 115.91,224.39 116.81,224.39 117.7,224.39 118.6,224.39 119.5,224.39 120.39,224.39 121.29,224.39 122.18,224.39 123.08,224.39 123.98,224.39 124.87,224.39 125.77,224.39 126.67,224.39 127.56,224.39 128.46,224.39 129.36,224.39 130.25,224.39 131.15,224.39 132.05,224.39 132.94,224.39 133.84,224.39 134.74,224.39 135.63,224.39 136.53,224.39 137.43,224.39 138.32,224.39 139.22,224.39 140.12,224.39 141.01,224.39 141.91,224.39 142.8,224.39 143.7,224.39 144.6,224.39 145.49,224.39 146.39,224.39 147.29,224.39 148.18,224.39 149.08,224.39 149.98,224.39 150.87,224.39 151.77,224.39 152.67,224.39 153.56,224.39 154.46,224.39 155.36,224.39 156.25,224.39 157.15,224.39 158.05,224.39 158.94,224.39 159.84,224.39 160.74,224.39 161.63,224.39 162.53,224.39 163.42,224.39 164.32,224.39 165.22,224.39 166.11,224.39 167.01,224.39 167.91,224.39 168.8,224.39 169.7,224.39 170.6,224.39 171.49,224.39 172.39,224.39 173.29,224.39 174.18,224.39 175.08,224.39 175.98,224.39 176.87,224.39 177.77,224.39 178.67,224.39 179.56,224.39 180.46,224.39 181.35,224.39 182.25,224.39 183.15,224.39 184.04,224.39 184.94,224.39 185.84,224.39 186.73,224.39 187.63,224.39 188.53,224.39 189.42,224.39 190.32,224.39 191.22,224.39 192.11,224.39 193.01,224.39 193.91,224.39 194.8,224.39" fill="none" stroke="#1f7cc4" stroke-width="1.2" stroke-linejoin="round"/>
<rect x="31.5" y="304.4" width="159.2" height="28.9" fill="#fff" stroke="#1a1a1a" stroke-width="0.9"/>
<circle cx="46.2" cy="311.8" r="2.4" fill="#ff0000"/>
<path d="M34.2 325.8h33.4" stroke="#2f7fc4" stroke-width="1.0"/>
<text transform="translate(58.6 315.7) rotate(.03)" class="lg" textLength="124.3" lengthAdjust="spacingAndGlyphs">Exp-semi-variogram value</text>
<text transform="translate(74.7 330.2) rotate(.03)" class="lg" textLength="105.2" lengthAdjust="spacingAndGlyphs">Semi-variogram curve</text>
</g>
<g>
<path d="M274.56 192.8V337.2M292.92 192.8V337.2M311.28 192.8V337.2M329.64 192.8V337.2M348 192.8V337.2M366.36 192.8V337.2M384.72 192.8V337.2M403.08 192.8V337.2M421.44 192.8V337.2M439.8 192.8V337.2M256.2 316.57H439.8M256.2 295.94H439.8M256.2 275.31H439.8M256.2 254.69H439.8M256.2 234.06H439.8M256.2 213.43H439.8M256.2 192.8H439.8" stroke="#e4e4e4" stroke-width="0.5" fill="none"/>
<path d="M256.2 192.8V337.2H439.8M256.2 337.2v-1.8M274.56 337.2v-1.8M292.92 337.2v-1.8M311.28 337.2v-1.8M329.64 337.2v-1.8M348 337.2v-1.8M366.36 337.2v-1.8M384.72 337.2v-1.8M403.08 337.2v-1.8M421.44 337.2v-1.8M439.8 337.2v-1.8M256.2 337.2h1.8M256.2 316.57h1.8M256.2 295.94h1.8M256.2 275.31h1.8M256.2 254.69h1.8M256.2 234.06h1.8M256.2 213.43h1.8M256.2 192.8h1.8" stroke="#555555" stroke-width="0.8" fill="none"/>
<text transform="translate(256.2 345.2) rotate(.03)" text-anchor="middle" class="tk">0</text>
<text transform="translate(274.56 345.2) rotate(.03)" text-anchor="middle" class="tk">10</text>
<text transform="translate(292.92 345.2) rotate(.03)" text-anchor="middle" class="tk">20</text>
<text transform="translate(311.28 345.2) rotate(.03)" text-anchor="middle" class="tk">30</text>
<text transform="translate(329.64 345.2) rotate(.03)" text-anchor="middle" class="tk">40</text>
<text transform="translate(348 345.2) rotate(.03)" text-anchor="middle" class="tk">50</text>
<text transform="translate(366.36 345.2) rotate(.03)" text-anchor="middle" class="tk">60</text>
<text transform="translate(384.72 345.2) rotate(.03)" text-anchor="middle" class="tk">70</text>
<text transform="translate(403.08 345.2) rotate(.03)" text-anchor="middle" class="tk">80</text>
<text transform="translate(421.44 345.2) rotate(.03)" text-anchor="middle" class="tk">90</text>
<text transform="translate(439.8 345.2) rotate(.03)" text-anchor="middle" class="tk">100</text>
<text transform="translate(253.9 339.2) rotate(.03)" text-anchor="end" class="tk">0</text>
<text transform="translate(253.9 318.57) rotate(.03)" text-anchor="end" class="tk">1</text>
<text transform="translate(253.9 297.94) rotate(.03)" text-anchor="end" class="tk">2</text>
<text transform="translate(253.9 277.31) rotate(.03)" text-anchor="end" class="tk">3</text>
<text transform="translate(253.9 256.69) rotate(.03)" text-anchor="end" class="tk">4</text>
<text transform="translate(253.9 236.06) rotate(.03)" text-anchor="end" class="tk">5</text>
<text transform="translate(253.9 215.43) rotate(.03)" text-anchor="end" class="tk">6</text>
<text transform="translate(253.9 194.8) rotate(.03)" text-anchor="end" class="tk">7</text>
<text transform="translate(257.1 191.8) rotate(.03)" class="ex"><tspan font-size="6.6" dy="0.75">×</tspan><tspan dy="-0.75" dx="-0.35">10</tspan><tspan dy="-2.3" dx="0.1" font-size="4.6">4</tspan></text>
<text transform="translate(348 189.7) rotate(.03)" text-anchor="middle" class="ti">Azimuth=90°</text>
<text transform="translate(348 355.5) rotate(.03)" text-anchor="middle" class="lb">lag distance (km)</text>
<text transform="translate(247.05 265) rotate(-89.97)" text-anchor="middle" class="lb">Exp semi-variogram (nT)</text>
<circle cx="261.04" cy="319.25" r="1.3" fill="#ff0000"/>
<circle cx="270.22" cy="290.99" r="1.3" fill="#ff0000"/>
<circle cx="279.4" cy="271.19" r="1.3" fill="#ff0000"/>
<circle cx="288.58" cy="259.64" r="1.3" fill="#ff0000"/>
<circle cx="297.76" cy="261.49" r="1.3" fill="#ff0000"/>
<circle cx="306.94" cy="259.43" r="1.3" fill="#ff0000"/>
<circle cx="316.12" cy="255.72" r="1.3" fill="#ff0000"/>
<circle cx="325.3" cy="246.43" r="1.3" fill="#ff0000"/>
<circle cx="334.48" cy="235.91" r="1.3" fill="#ff0000"/>
<circle cx="343.66" cy="222.3" r="1.3" fill="#ff0000"/>
<circle cx="352.84" cy="218.17" r="1.3" fill="#ff0000"/>
<circle cx="362.02" cy="214.25" r="1.3" fill="#ff0000"/>
<circle cx="371.2" cy="219" r="1.3" fill="#ff0000"/>
<circle cx="380.38" cy="228.69" r="1.3" fill="#ff0000"/>
<circle cx="389.56" cy="232.2" r="1.3" fill="#ff0000"/>
<circle cx="398.74" cy="225.39" r="1.3" fill="#ff0000"/>
<circle cx="407.92" cy="217.55" r="1.3" fill="#ff0000"/>
<circle cx="417.1" cy="208.68" r="1.3" fill="#ff0000"/>
<circle cx="426.28" cy="219.2" r="1.3" fill="#ff0000"/>
<circle cx="435.46" cy="223.74" r="1.3" fill="#ff0000"/>
<polyline points="256.2,310.38 257.1,309.32 257.99,308.26 258.89,307.2 259.78,306.15 260.68,305.09 261.57,304.03 262.47,302.97 263.36,301.92 264.26,300.86 265.15,299.81 266.05,298.76 266.94,297.71 267.84,296.66 268.73,295.61 269.63,294.56 270.52,293.52 271.42,292.48 272.31,291.44 273.21,290.4 274.1,289.37 275,288.34 275.89,287.31 276.79,286.28 277.68,285.26 278.58,284.24 279.47,283.22 280.37,282.21 281.26,281.2 282.16,280.2 283.05,279.19 283.95,278.2 284.84,277.2 285.74,276.21 286.63,275.23 287.53,274.25 288.42,273.27 289.32,272.3 290.21,271.34 291.11,270.37 292,269.42 292.9,268.47 293.79,267.52 294.69,266.58 295.58,265.65 296.48,264.72 297.37,263.8 298.27,262.89 299.16,261.98 300.06,261.07 300.95,260.18 301.85,259.29 302.74,258.4 303.64,257.53 304.53,256.66 305.43,255.8 306.32,254.94 307.22,254.1 308.11,253.26 309.01,252.42 309.9,251.6 310.8,250.78 311.69,249.98 312.59,249.18 313.48,248.39 314.38,247.6 315.27,246.83 316.17,246.06 317.06,245.31 317.96,244.56 318.85,243.82 319.75,243.09 320.64,242.37 321.54,241.67 322.43,240.97 323.33,240.28 324.22,239.6 325.12,238.93 326.01,238.27 326.91,237.62 327.8,236.98 328.7,236.35 329.59,235.73 330.49,235.13 331.38,234.53 332.28,233.95 333.17,233.37 334.07,232.81 334.96,232.26 335.86,231.72 336.75,231.2 337.65,230.68 338.54,230.18 339.44,229.69 340.33,229.21 341.23,228.75 342.12,228.3 343.02,227.86 343.91,227.43 344.81,227.02 345.7,226.62 346.6,226.23 347.5,225.85 348.39,225.49 349.29,225.15 350.18,224.82 351.08,224.5 351.97,224.19 352.87,223.9 353.76,223.63 354.66,223.37 355.55,223.12 356.45,222.89 357.34,222.67 358.24,222.47 359.13,222.28 360.03,222.11 360.92,221.95 361.82,221.81 362.71,221.69 363.61,221.58 364.5,221.49 365.4,221.41 366.29,221.35 367.19,221.31 368.08,221.28 368.98,221.27 369.87,221.27 370.77,221.27 371.66,221.27 372.56,221.27 373.45,221.27 374.35,221.27 375.24,221.27 376.14,221.27 377.03,221.27 377.93,221.27 378.82,221.27 379.72,221.27 380.61,221.27 381.51,221.27 382.4,221.27 383.3,221.27 384.19,221.27 385.09,221.27 385.98,221.27 386.88,221.27 387.77,221.27 388.67,221.27 389.56,221.27 390.46,221.27 391.35,221.27 392.25,221.27 393.14,221.27 394.04,221.27 394.93,221.27 395.83,221.27 396.72,221.27 397.62,221.27 398.51,221.27 399.41,221.27 400.3,221.27 401.2,221.27 402.09,221.27 402.99,221.27 403.88,221.27 404.78,221.27 405.67,221.27 406.57,221.27 407.46,221.27 408.36,221.27 409.25,221.27 410.15,221.27 411.04,221.27 411.94,221.27 412.83,221.27 413.73,221.27 414.62,221.27 415.52,221.27 416.41,221.27 417.31,221.27 418.2,221.27 419.1,221.27 419.99,221.27 420.89,221.27 421.78,221.27 422.68,221.27 423.57,221.27 424.47,221.27 425.36,221.27 426.26,221.27 427.15,221.27 428.05,221.27 428.94,221.27 429.84,221.27 430.73,221.27 431.63,221.27 432.52,221.27 433.42,221.27 434.31,221.27 435.21,221.27" fill="none" stroke="#1f7cc4" stroke-width="1.2" stroke-linejoin="round"/>
<rect x="273.5" y="302.7" width="159.2" height="28.9" fill="#fff" stroke="#1a1a1a" stroke-width="0.9"/>
<circle cx="288.2" cy="310.1" r="2.4" fill="#ff0000"/>
<path d="M276.2 324.1h33.4" stroke="#2f7fc4" stroke-width="1.1"/>
<text transform="translate(300.6 314) rotate(.03)" class="lg" textLength="124.3" lengthAdjust="spacingAndGlyphs">Exp-semi-variogram value</text>
<text transform="translate(316.7 328.5) rotate(.03)" class="lg" textLength="105.2" lengthAdjust="spacingAndGlyphs">Semi-variogram curve</text>
</g>
<g>
<path d="M514.98 192.8V337.2M533.36 192.8V337.2M551.74 192.8V337.2M570.12 192.8V337.2M588.5 192.8V337.2M606.88 192.8V337.2M625.26 192.8V337.2M643.64 192.8V337.2M662.02 192.8V337.2M680.4 192.8V337.2M496.6 321.16H680.4M496.6 305.11H680.4M496.6 289.07H680.4M496.6 273.02H680.4M496.6 256.98H680.4M496.6 240.93H680.4M496.6 224.89H680.4M496.6 208.84H680.4M496.6 192.8H680.4" stroke="#e4e4e4" stroke-width="0.5" fill="none"/>
<path d="M496.6 192.8V337.2H680.4M496.6 337.2v-1.8M514.98 337.2v-1.8M533.36 337.2v-1.8M551.74 337.2v-1.8M570.12 337.2v-1.8M588.5 337.2v-1.8M606.88 337.2v-1.8M625.26 337.2v-1.8M643.64 337.2v-1.8M662.02 337.2v-1.8M680.4 337.2v-1.8M496.6 337.2h1.8M496.6 321.16h1.8M496.6 305.11h1.8M496.6 289.07h1.8M496.6 273.02h1.8M496.6 256.98h1.8M496.6 240.93h1.8M496.6 224.89h1.8M496.6 208.84h1.8M496.6 192.8h1.8" stroke="#555555" stroke-width="0.8" fill="none"/>
<text transform="translate(496.6 345.2) rotate(.03)" text-anchor="middle" class="tk">0</text>
<text transform="translate(514.98 345.2) rotate(.03)" text-anchor="middle" class="tk">10</text>
<text transform="translate(533.36 345.2) rotate(.03)" text-anchor="middle" class="tk">20</text>
<text transform="translate(551.74 345.2) rotate(.03)" text-anchor="middle" class="tk">30</text>
<text transform="translate(570.12 345.2) rotate(.03)" text-anchor="middle" class="tk">40</text>
<text transform="translate(588.5 345.2) rotate(.03)" text-anchor="middle" class="tk">50</text>
<text transform="translate(606.88 345.2) rotate(.03)" text-anchor="middle" class="tk">60</text>
<text transform="translate(625.26 345.2) rotate(.03)" text-anchor="middle" class="tk">70</text>
<text transform="translate(643.64 345.2) rotate(.03)" text-anchor="middle" class="tk">80</text>
<text transform="translate(662.02 345.2) rotate(.03)" text-anchor="middle" class="tk">90</text>
<text transform="translate(680.4 345.2) rotate(.03)" text-anchor="middle" class="tk">100</text>
<text transform="translate(494.3 339.2) rotate(.03)" text-anchor="end" class="tk">0</text>
<text transform="translate(494.3 323.16) rotate(.03)" text-anchor="end" class="tk">1</text>
<text transform="translate(494.3 307.11) rotate(.03)" text-anchor="end" class="tk">2</text>
<text transform="translate(494.3 291.07) rotate(.03)" text-anchor="end" class="tk">3</text>
<text transform="translate(494.3 275.02) rotate(.03)" text-anchor="end" class="tk">4</text>
<text transform="translate(494.3 258.98) rotate(.03)" text-anchor="end" class="tk">5</text>
<text transform="translate(494.3 242.93) rotate(.03)" text-anchor="end" class="tk">6</text>
<text transform="translate(494.3 226.89) rotate(.03)" text-anchor="end" class="tk">7</text>
<text transform="translate(494.3 210.84) rotate(.03)" text-anchor="end" class="tk">8</text>
<text transform="translate(494.3 194.8) rotate(.03)" text-anchor="end" class="tk">9</text>
<text transform="translate(497.5 191.8) rotate(.03)" class="ex"><tspan font-size="6.6" dy="0.75">×</tspan><tspan dy="-0.75" dx="-0.35">10</tspan><tspan dy="-2.3" dx="0.1" font-size="4.6">4</tspan></text>
<text transform="translate(588.5 189.7) rotate(.03)" text-anchor="middle" class="ti">Azimuth=112.5°</text>
<text transform="translate(588.5 355.5) rotate(.03)" text-anchor="middle" class="lb">lag distance (km)</text>
<text transform="translate(487.2 265) rotate(-89.97)" text-anchor="middle" class="lb">Exp semi-variogram (nT)</text>
<circle cx="501.45" cy="323.56" r="1.3" fill="#ff0000"/>
<circle cx="510.63" cy="301.58" r="1.3" fill="#ff0000"/>
<circle cx="519.83" cy="285.54" r="1.3" fill="#ff0000"/>
<circle cx="529.01" cy="276.39" r="1.3" fill="#ff0000"/>
<circle cx="538.21" cy="271.9" r="1.3" fill="#ff0000"/>
<circle cx="547.39" cy="268.53" r="1.3" fill="#ff0000"/>
<circle cx="556.59" cy="262.43" r="1.3" fill="#ff0000"/>
<circle cx="565.77" cy="252.97" r="1.3" fill="#ff0000"/>
<circle cx="574.97" cy="241.41" r="1.3" fill="#ff0000"/>
<circle cx="584.15" cy="231.15" r="1.3" fill="#ff0000"/>
<circle cx="593.35" cy="224.73" r="1.3" fill="#ff0000"/>
<circle cx="602.53" cy="223.61" r="1.3" fill="#ff0000"/>
<circle cx="611.73" cy="227.14" r="1.3" fill="#ff0000"/>
<circle cx="620.91" cy="230.5" r="1.3" fill="#ff0000"/>
<circle cx="630.11" cy="228.74" r="1.3" fill="#ff0000"/>
<circle cx="639.29" cy="220.24" r="1.3" fill="#ff0000"/>
<circle cx="648.49" cy="210.45" r="1.3" fill="#ff0000"/>
<circle cx="657.67" cy="204.99" r="1.3" fill="#ff0000"/>
<circle cx="666.87" cy="208.36" r="1.3" fill="#ff0000"/>
<circle cx="676.05" cy="219.59" r="1.3" fill="#ff0000"/>
<polyline points="496.6,316.5 497.5,315.59 498.39,314.67 499.29,313.76 500.18,312.85 501.08,311.93 501.98,311.02 502.87,310.11 503.77,309.2 504.66,308.28 505.56,307.37 506.46,306.46 507.35,305.55 508.25,304.65 509.14,303.74 510.04,302.83 510.94,301.92 511.83,301.02 512.73,300.12 513.62,299.21 514.52,298.31 515.42,297.41 516.31,296.51 517.21,295.62 518.1,294.72 519,293.83 519.9,292.93 520.79,292.04 521.69,291.15 522.58,290.27 523.48,289.38 524.38,288.5 525.27,287.62 526.17,286.74 527.06,285.86 527.96,284.99 528.86,284.11 529.75,283.24 530.65,282.38 531.54,281.51 532.44,280.65 533.34,279.79 534.23,278.93 535.13,278.08 536.03,277.23 536.92,276.38 537.82,275.53 538.71,274.69 539.61,273.85 540.51,273.02 541.4,272.18 542.3,271.35 543.19,270.53 544.09,269.7 544.99,268.89 545.88,268.07 546.78,267.26 547.67,266.45 548.57,265.65 549.47,264.84 550.36,264.05 551.26,263.25 552.15,262.47 553.05,261.68 553.95,260.9 554.84,260.12 555.74,259.35 556.63,258.59 557.53,257.82 558.43,257.06 559.32,256.31 560.22,255.56 561.11,254.82 562.01,254.08 562.91,253.34 563.8,252.61 564.7,251.88 565.59,251.16 566.49,250.45 567.39,249.74 568.28,249.03 569.18,248.34 570.07,247.64 570.97,246.95 571.87,246.27 572.76,245.59 573.66,244.92 574.55,244.25 575.45,243.59 576.35,242.94 577.24,242.29 578.14,241.65 579.03,241.01 579.93,240.38 580.83,239.75 581.72,239.14 582.62,238.52 583.51,237.92 584.41,237.32 585.31,236.73 586.2,236.14 587.1,235.56 587.99,234.99 588.89,234.42 589.79,233.86 590.68,233.31 591.58,232.76 592.47,232.23 593.37,231.69 594.27,231.17 595.16,230.65 596.06,230.14 596.95,229.64 597.85,229.15 598.75,228.66 599.64,228.18 600.54,227.71 601.43,227.24 602.33,226.79 603.23,226.34 604.12,225.89 605.02,225.46 605.92,225.04 606.81,224.62 607.71,224.21 608.6,223.81 609.5,223.42 610.4,223.03 611.29,222.66 612.19,222.29 613.08,221.93 613.98,221.58 614.88,221.24 615.77,220.91 616.67,220.58 617.56,220.27 618.46,219.96 619.36,219.66 620.25,219.38 621.15,219.1 622.04,218.83 622.94,218.57 623.84,218.32 624.73,218.07 625.63,217.84 626.52,217.62 627.42,217.41 628.32,217.2 629.21,217.01 630.11,216.83 631,216.65 631.9,216.49 632.8,216.33 633.69,216.19 634.59,216.05 635.48,215.93 636.38,215.82 637.28,215.71 638.17,215.62 639.07,215.54 639.96,215.47 640.86,215.41 641.76,215.36 642.65,215.32 643.55,215.29 644.44,215.27 645.34,215.26 646.24,215.26 647.13,215.26 648.03,215.26 648.92,215.26 649.82,215.26 650.72,215.26 651.61,215.26 652.51,215.26 653.4,215.26 654.3,215.26 655.2,215.26 656.09,215.26 656.99,215.26 657.88,215.26 658.78,215.26 659.68,215.26 660.57,215.26 661.47,215.26 662.36,215.26 663.26,215.26 664.16,215.26 665.05,215.26 665.95,215.26 666.84,215.26 667.74,215.26 668.64,215.26 669.53,215.26 670.43,215.26 671.32,215.26 672.22,215.26 673.12,215.26 674.01,215.26 674.91,215.26 675.8,215.26" fill="none" stroke="#1f7cc4" stroke-width="1.2" stroke-linejoin="round"/>
<rect x="589.5" y="241.35" width="87.3" height="16.05" fill="#fff" stroke="#666" stroke-width="0.45"/>
<circle cx="599.45" cy="245.75" r="1.0" fill="#ff0000"/>
<path d="M591.3 253.3H607.2" stroke="#3f93d6" stroke-width="1.3"/>
<text transform="translate(608.8 247.8) rotate(.03)" class="sl" textLength="65.4" lengthAdjust="spacingAndGlyphs">Exp-semi-variogram value</text>
<text transform="translate(608.8 255.0) rotate(.03)" class="sl" textLength="53.7" lengthAdjust="spacingAndGlyphs">semi-variogram curve</text>
<rect x="515.5" y="303.4" width="159.2" height="28.9" fill="#fff" stroke="#1a1a1a" stroke-width="0.9"/>
<circle cx="530.2" cy="310.8" r="2.4" fill="#ff0000"/>
<path d="M518.2 324.8h33.4" stroke="#4d8fcb" stroke-width="1.6"/>
<text transform="translate(542.6 314.7) rotate(.03)" class="lg" textLength="124.3" lengthAdjust="spacingAndGlyphs">Exp-semi-variogram value</text>
<text transform="translate(558.7 329.2) rotate(.03)" class="lg" textLength="105.2" lengthAdjust="spacingAndGlyphs">Semi-variogram curve</text>
</g>
<g>
<path d="M33.89 380.8V525.2M52.28 380.8V525.2M70.67 380.8V525.2M89.06 380.8V525.2M107.45 380.8V525.2M125.84 380.8V525.2M144.23 380.8V525.2M162.62 380.8V525.2M181.01 380.8V525.2M199.4 380.8V525.2M15.5 504.57H199.4M15.5 483.94H199.4M15.5 463.31H199.4M15.5 442.69H199.4M15.5 422.06H199.4M15.5 401.43H199.4M15.5 380.8H199.4" stroke="#e4e4e4" stroke-width="0.5" fill="none"/>
<path d="M15.5 380.8V525.2H199.4M15.5 525.2v-1.8M33.89 525.2v-1.8M52.28 525.2v-1.8M70.67 525.2v-1.8M89.06 525.2v-1.8M107.45 525.2v-1.8M125.84 525.2v-1.8M144.23 525.2v-1.8M162.62 525.2v-1.8M181.01 525.2v-1.8M199.4 525.2v-1.8M15.5 525.2h1.8M15.5 504.57h1.8M15.5 483.94h1.8M15.5 463.31h1.8M15.5 442.69h1.8M15.5 422.06h1.8M15.5 401.43h1.8M15.5 380.8h1.8" stroke="#555555" stroke-width="0.8" fill="none"/>
<text transform="translate(15.5 533.2) rotate(.03)" text-anchor="middle" class="tk">0</text>
<text transform="translate(33.89 533.2) rotate(.03)" text-anchor="middle" class="tk">10</text>
<text transform="translate(52.28 533.2) rotate(.03)" text-anchor="middle" class="tk">20</text>
<text transform="translate(70.67 533.2) rotate(.03)" text-anchor="middle" class="tk">30</text>
<text transform="translate(89.06 533.2) rotate(.03)" text-anchor="middle" class="tk">40</text>
<text transform="translate(107.45 533.2) rotate(.03)" text-anchor="middle" class="tk">50</text>
<text transform="translate(125.84 533.2) rotate(.03)" text-anchor="middle" class="tk">60</text>
<text transform="translate(144.23 533.2) rotate(.03)" text-anchor="middle" class="tk">70</text>
<text transform="translate(162.62 533.2) rotate(.03)" text-anchor="middle" class="tk">80</text>
<text transform="translate(181.01 533.2) rotate(.03)" text-anchor="middle" class="tk">90</text>
<text transform="translate(199.4 533.2) rotate(.03)" text-anchor="middle" class="tk">100</text>
<text transform="translate(13.2 527.2) rotate(.03)" text-anchor="end" class="tk">0</text>
<text transform="translate(13.2 506.57) rotate(.03)" text-anchor="end" class="tk">1</text>
<text transform="translate(13.2 485.94) rotate(.03)" text-anchor="end" class="tk">2</text>
<text transform="translate(13.2 465.31) rotate(.03)" text-anchor="end" class="tk">3</text>
<text transform="translate(13.2 444.69) rotate(.03)" text-anchor="end" class="tk">4</text>
<text transform="translate(13.2 424.06) rotate(.03)" text-anchor="end" class="tk">5</text>
<text transform="translate(13.2 403.43) rotate(.03)" text-anchor="end" class="tk">6</text>
<text transform="translate(13.2 382.8) rotate(.03)" text-anchor="end" class="tk">7</text>
<text transform="translate(16.4 379.8) rotate(.03)" class="ex"><tspan font-size="6.6" dy="0.75">×</tspan><tspan dy="-0.75" dx="-0.35">10</tspan><tspan dy="-2.3" dx="0.1" font-size="4.6">4</tspan></text>
<text transform="translate(107.45 377.7) rotate(.03)" text-anchor="middle" class="ti">Azimuth=135°</text>
<text transform="translate(107.45 543.5) rotate(.03)" text-anchor="middle" class="lb">lag distance (km)</text>
<text transform="translate(6.5 453) rotate(-89.97)" text-anchor="middle" class="lb">Exp semi-variogram (nT)</text>
<circle cx="20.35" cy="510.35" r="1.3" fill="#ff0000"/>
<circle cx="29.54" cy="477.34" r="1.3" fill="#ff0000"/>
<circle cx="38.74" cy="448.87" r="1.3" fill="#ff0000"/>
<circle cx="47.93" cy="425.15" r="1.3" fill="#ff0000"/>
<circle cx="57.13" cy="411.95" r="1.3" fill="#ff0000"/>
<circle cx="66.32" cy="404.11" r="1.3" fill="#ff0000"/>
<circle cx="75.52" cy="402.87" r="1.3" fill="#ff0000"/>
<circle cx="84.71" cy="402.87" r="1.3" fill="#ff0000"/>
<circle cx="93.91" cy="400.81" r="1.3" fill="#ff0000"/>
<circle cx="103.1" cy="397.51" r="1.3" fill="#ff0000"/>
<circle cx="112.3" cy="391.73" r="1.3" fill="#ff0000"/>
<circle cx="121.49" cy="384.93" r="1.3" fill="#ff0000"/>
<circle cx="130.69" cy="381.42" r="1.3" fill="#ff0000"/>
<circle cx="139.88" cy="384.1" r="1.3" fill="#ff0000"/>
<circle cx="149.08" cy="395.65" r="1.3" fill="#ff0000"/>
<circle cx="158.27" cy="414.42" r="1.3" fill="#ff0000"/>
<circle cx="167.47" cy="421.23" r="1.3" fill="#ff0000"/>
<circle cx="176.66" cy="426.18" r="1.3" fill="#ff0000"/>
<circle cx="185.86" cy="436.08" r="1.3" fill="#ff0000"/>
<circle cx="195.05" cy="445.99" r="1.3" fill="#ff0000"/>
<polyline points="15.5,525.2 16.4,522.09 17.29,518.97 18.19,515.87 19.09,512.76 19.98,509.67 20.88,506.58 21.78,503.51 22.67,500.45 23.57,497.4 24.47,494.38 25.36,491.37 26.26,488.38 27.15,485.41 28.05,482.47 28.95,479.55 29.84,476.67 30.74,473.81 31.64,470.98 32.53,468.19 33.43,465.44 34.33,462.72 35.22,460.04 36.12,457.41 37.02,454.82 37.91,452.27 38.81,449.77 39.71,447.32 40.6,444.92 41.5,442.57 42.4,440.28 43.29,438.04 44.19,435.87 45.08,433.75 45.98,431.69 46.88,429.7 47.77,427.78 48.67,425.92 49.57,424.14 50.46,422.42 51.36,420.78 52.26,419.22 53.15,417.73 54.05,416.32 54.95,414.99 55.84,413.75 56.74,412.59 57.64,411.51 58.53,410.53 59.43,409.64 60.33,408.84 61.22,408.13 62.12,407.52 63.02,407.01 63.91,406.59 64.81,406.28 65.7,406.08 66.6,405.98 67.5,405.97 68.39,405.97 69.29,405.97 70.19,405.97 71.08,405.97 71.98,405.97 72.88,405.97 73.77,405.97 74.67,405.97 75.57,405.97 76.46,405.97 77.36,405.97 78.26,405.97 79.15,405.97 80.05,405.97 80.95,405.97 81.84,405.97 82.74,405.97 83.63,405.97 84.53,405.97 85.43,405.97 86.32,405.97 87.22,405.97 88.12,405.97 89.01,405.97 89.91,405.97 90.81,405.97 91.7,405.97 92.6,405.97 93.5,405.97 94.39,405.97 95.29,405.97 96.19,405.97 97.08,405.97 97.98,405.97 98.88,405.97 99.77,405.97 100.67,405.97 101.57,405.97 102.46,405.97 103.36,405.97 104.25,405.97 105.15,405.97 106.05,405.97 106.94,405.97 107.84,405.97 108.74,405.97 109.63,405.97 110.53,405.97 111.43,405.97 112.32,405.97 113.22,405.97 114.12,405.97 115.01,405.97 115.91,405.97 116.81,405.97 117.7,405.97 118.6,405.97 119.5,405.97 120.39,405.97 121.29,405.97 122.18,405.97 123.08,405.97 123.98,405.97 124.87,405.97 125.77,405.97 126.67,405.97 127.56,405.97 128.46,405.97 129.36,405.97 130.25,405.97 131.15,405.97 132.05,405.97 132.94,405.97 133.84,405.97 134.74,405.97 135.63,405.97 136.53,405.97 137.43,405.97 138.32,405.97 139.22,405.97 140.12,405.97 141.01,405.97 141.91,405.97 142.8,405.97 143.7,405.97 144.6,405.97 145.49,405.97 146.39,405.97 147.29,405.97 148.18,405.97 149.08,405.97 149.98,405.97 150.87,405.97 151.77,405.97 152.67,405.97 153.56,405.97 154.46,405.97 155.36,405.97 156.25,405.97 157.15,405.97 158.05,405.97 158.94,405.97 159.84,405.97 160.74,405.97 161.63,405.97 162.53,405.97 163.42,405.97 164.32,405.97 165.22,405.97 166.11,405.97 167.01,405.97 167.91,405.97 168.8,405.97 169.7,405.97 170.6,405.97 171.49,405.97 172.39,405.97 173.29,405.97 174.18,405.97 175.08,405.97 175.98,405.97 176.87,405.97 177.77,405.97 178.67,405.97 179.56,405.97 180.46,405.97 181.35,405.97 182.25,405.97 183.15,405.97 184.04,405.97 184.94,405.97 185.84,405.97 186.73,405.97 187.63,405.97 188.53,405.97 189.42,405.97 190.32,405.97 191.22,405.97 192.11,405.97 193.01,405.97 193.91,405.97 194.8,405.97" fill="none" stroke="#1f7cc4" stroke-width="1.2" stroke-linejoin="round"/>
<rect x="31.5" y="490.4" width="159.2" height="28.9" fill="#fff" stroke="#1a1a1a" stroke-width="0.9"/>
<circle cx="46.2" cy="497.8" r="2.4" fill="#ff0000"/>
<path d="M34.2 511.8h33.4" stroke="#2f7fc4" stroke-width="1.0"/>
<text transform="translate(58.6 501.7) rotate(.03)" class="lg" textLength="124.3" lengthAdjust="spacingAndGlyphs">Exp-semi-variogram value</text>
<text transform="translate(74.7 516.2) rotate(.03)" class="lg" textLength="105.2" lengthAdjust="spacingAndGlyphs">Semi-variogram curve</text>
</g>
<g>
<path d="M274.56 380.8V525.2M292.92 380.8V525.2M311.28 380.8V525.2M329.64 380.8V525.2M348 380.8V525.2M366.36 380.8V525.2M384.72 380.8V525.2M403.08 380.8V525.2M421.44 380.8V525.2M439.8 380.8V525.2M256.2 504.57H439.8M256.2 483.94H439.8M256.2 463.31H439.8M256.2 442.69H439.8M256.2 422.06H439.8M256.2 401.43H439.8M256.2 380.8H439.8" stroke="#e4e4e4" stroke-width="0.5" fill="none"/>
<path d="M256.2 380.8V525.2H439.8M256.2 525.2v-1.8M274.56 525.2v-1.8M292.92 525.2v-1.8M311.28 525.2v-1.8M329.64 525.2v-1.8M348 525.2v-1.8M366.36 525.2v-1.8M384.72 525.2v-1.8M403.08 525.2v-1.8M421.44 525.2v-1.8M439.8 525.2v-1.8M256.2 525.2h1.8M256.2 504.57h1.8M256.2 483.94h1.8M256.2 463.31h1.8M256.2 442.69h1.8M256.2 422.06h1.8M256.2 401.43h1.8M256.2 380.8h1.8" stroke="#555555" stroke-width="0.8" fill="none"/>
<text transform="translate(256.2 533.2) rotate(.03)" text-anchor="middle" class="tk">0</text>
<text transform="translate(274.56 533.2) rotate(.03)" text-anchor="middle" class="tk">10</text>
<text transform="translate(292.92 533.2) rotate(.03)" text-anchor="middle" class="tk">20</text>
<text transform="translate(311.28 533.2) rotate(.03)" text-anchor="middle" class="tk">30</text>
<text transform="translate(329.64 533.2) rotate(.03)" text-anchor="middle" class="tk">40</text>
<text transform="translate(348 533.2) rotate(.03)" text-anchor="middle" class="tk">50</text>
<text transform="translate(366.36 533.2) rotate(.03)" text-anchor="middle" class="tk">60</text>
<text transform="translate(384.72 533.2) rotate(.03)" text-anchor="middle" class="tk">70</text>
<text transform="translate(403.08 533.2) rotate(.03)" text-anchor="middle" class="tk">80</text>
<text transform="translate(421.44 533.2) rotate(.03)" text-anchor="middle" class="tk">90</text>
<text transform="translate(439.8 533.2) rotate(.03)" text-anchor="middle" class="tk">100</text>
<text transform="translate(253.9 527.2) rotate(.03)" text-anchor="end" class="tk">0</text>
<text transform="translate(253.9 506.57) rotate(.03)" text-anchor="end" class="tk">1</text>
<text transform="translate(253.9 485.94) rotate(.03)" text-anchor="end" class="tk">2</text>
<text transform="translate(253.9 465.31) rotate(.03)" text-anchor="end" class="tk">3</text>
<text transform="translate(253.9 444.69) rotate(.03)" text-anchor="end" class="tk">4</text>
<text transform="translate(253.9 424.06) rotate(.03)" text-anchor="end" class="tk">5</text>
<text transform="translate(253.9 403.43) rotate(.03)" text-anchor="end" class="tk">6</text>
<text transform="translate(253.9 382.8) rotate(.03)" text-anchor="end" class="tk">7</text>
<text transform="translate(257.1 379.8) rotate(.03)" class="ex"><tspan font-size="6.6" dy="0.75">×</tspan><tspan dy="-0.75" dx="-0.35">10</tspan><tspan dy="-2.3" dx="0.1" font-size="4.6">4</tspan></text>
<text transform="translate(348 377.7) rotate(.03)" text-anchor="middle" class="ti">Azimuth=157.5°</text>
<text transform="translate(348 543.5) rotate(.03)" text-anchor="middle" class="lb">lag distance (km)</text>
<text transform="translate(247.05 453) rotate(-89.97)" text-anchor="middle" class="lb">Exp semi-variogram (nT)</text>
<circle cx="261.04" cy="508.28" r="1.3" fill="#ff0000"/>
<circle cx="270.22" cy="474.45" r="1.3" fill="#ff0000"/>
<circle cx="279.4" cy="438.35" r="1.3" fill="#ff0000"/>
<circle cx="288.58" cy="409.68" r="1.3" fill="#ff0000"/>
<circle cx="297.76" cy="391.32" r="1.3" fill="#ff0000"/>
<circle cx="306.94" cy="381.83" r="1.3" fill="#ff0000"/>
<circle cx="316.12" cy="385.96" r="1.3" fill="#ff0000"/>
<circle cx="325.3" cy="397.72" r="1.3" fill="#ff0000"/>
<circle cx="334.48" cy="406.59" r="1.3" fill="#ff0000"/>
<circle cx="343.66" cy="405.14" r="1.3" fill="#ff0000"/>
<circle cx="352.84" cy="401.84" r="1.3" fill="#ff0000"/>
<circle cx="362.02" cy="405.55" r="1.3" fill="#ff0000"/>
<circle cx="371.2" cy="418.34" r="1.3" fill="#ff0000"/>
<circle cx="380.38" cy="432.37" r="1.3" fill="#ff0000"/>
<circle cx="389.56" cy="438.35" r="1.3" fill="#ff0000"/>
<circle cx="398.74" cy="432.37" r="1.3" fill="#ff0000"/>
<circle cx="407.92" cy="427.21" r="1.3" fill="#ff0000"/>
<circle cx="417.1" cy="426.8" r="1.3" fill="#ff0000"/>
<circle cx="426.28" cy="428.66" r="1.3" fill="#ff0000"/>
<circle cx="435.46" cy="434.64" r="1.3" fill="#ff0000"/>
<polyline points="256.2,525.2 257.1,521.31 257.99,517.42 258.89,513.54 259.78,509.67 260.68,505.82 261.57,501.99 262.47,498.19 263.36,494.41 264.26,490.67 265.15,486.97 266.05,483.3 266.94,479.69 267.84,476.12 268.73,472.61 269.63,469.16 270.52,465.77 271.42,462.45 272.31,459.2 273.21,456.02 274.1,452.93 275,449.92 275.89,446.99 276.79,444.16 277.68,441.43 278.58,438.8 279.47,436.27 280.37,433.85 281.26,431.54 282.16,429.35 283.05,427.28 283.95,425.34 284.84,423.53 285.74,421.86 286.63,420.32 287.53,418.92 288.42,417.67 289.32,416.57 290.21,415.63 291.11,414.85 292,414.23 292.9,413.78 293.79,413.5 294.69,413.39 295.58,413.39 296.48,413.39 297.37,413.39 298.27,413.39 299.16,413.39 300.06,413.39 300.95,413.39 301.85,413.39 302.74,413.39 303.64,413.39 304.53,413.39 305.43,413.39 306.32,413.39 307.22,413.39 308.11,413.39 309.01,413.39 309.9,413.39 310.8,413.39 311.69,413.39 312.59,413.39 313.48,413.39 314.38,413.39 315.27,413.39 316.17,413.39 317.06,413.39 317.96,413.39 318.85,413.39 319.75,413.39 320.64,413.39 321.54,413.39 322.43,413.39 323.33,413.39 324.22,413.39 325.12,413.39 326.01,413.39 326.91,413.39 327.8,413.39 328.7,413.39 329.59,413.39 330.49,413.39 331.38,413.39 332.28,413.39 333.17,413.39 334.07,413.39 334.96,413.39 335.86,413.39 336.75,413.39 337.65,413.39 338.54,413.39 339.44,413.39 340.33,413.39 341.23,413.39 342.12,413.39 343.02,413.39 343.91,413.39 344.81,413.39 345.7,413.39 346.6,413.39 347.5,413.39 348.39,413.39 349.29,413.39 350.18,413.39 351.08,413.39 351.97,413.39 352.87,413.39 353.76,413.39 354.66,413.39 355.55,413.39 356.45,413.39 357.34,413.39 358.24,413.39 359.13,413.39 360.03,413.39 360.92,413.39 361.82,413.39 362.71,413.39 363.61,413.39 364.5,413.39 365.4,413.39 366.29,413.39 367.19,413.39 368.08,413.39 368.98,413.39 369.87,413.39 370.77,413.39 371.66,413.39 372.56,413.39 373.45,413.39 374.35,413.39 375.24,413.39 376.14,413.39 377.03,413.39 377.93,413.39 378.82,413.39 379.72,413.39 380.61,413.39 381.51,413.39 382.4,413.39 383.3,413.39 384.19,413.39 385.09,413.39 385.98,413.39 386.88,413.39 387.77,413.39 388.67,413.39 389.56,413.39 390.46,413.39 391.35,413.39 392.25,413.39 393.14,413.39 394.04,413.39 394.93,413.39 395.83,413.39 396.72,413.39 397.62,413.39 398.51,413.39 399.41,413.39 400.3,413.39 401.2,413.39 402.09,413.39 402.99,413.39 403.88,413.39 404.78,413.39 405.67,413.39 406.57,413.39 407.46,413.39 408.36,413.39 409.25,413.39 410.15,413.39 411.04,413.39 411.94,413.39 412.83,413.39 413.73,413.39 414.62,413.39 415.52,413.39 416.41,413.39 417.31,413.39 418.2,413.39 419.1,413.39 419.99,413.39 420.89,413.39 421.78,413.39 422.68,413.39 423.57,413.39 424.47,413.39 425.36,413.39 426.26,413.39 427.15,413.39 428.05,413.39 428.94,413.39 429.84,413.39 430.73,413.39 431.63,413.39 432.52,413.39 433.42,413.39 434.31,413.39 435.21,413.39" fill="none" stroke="#1f7cc4" stroke-width="1.2" stroke-linejoin="round"/>
<rect x="273.5" y="489.4" width="159.2" height="28.9" fill="#fff" stroke="#1a1a1a" stroke-width="0.9"/>
<circle cx="288.2" cy="496.8" r="2.4" fill="#ff0000"/>
<path d="M276.2 510.8h33.4" stroke="#4d8fcb" stroke-width="1.6"/>
<text transform="translate(300.6 500.7) rotate(.03)" class="lg" textLength="124.3" lengthAdjust="spacingAndGlyphs">Exp-semi-variogram value</text>
<text transform="translate(316.7 515.2) rotate(.03)" class="lg" textLength="105.2" lengthAdjust="spacingAndGlyphs">Semi-variogram curve</text>
</g>
<g>
<path d="M517.02 380.8V525.2M537.44 380.8V525.2M557.87 380.8V525.2M578.29 380.8V525.2M598.71 380.8V525.2M619.13 380.8V525.2M639.56 380.8V525.2M659.98 380.8V525.2M680.4 380.8V525.2M496.6 504.57H680.4M496.6 483.94H680.4M496.6 463.31H680.4M496.6 442.69H680.4M496.6 422.06H680.4M496.6 401.43H680.4M496.6 380.8H680.4" stroke="#e4e4e4" stroke-width="0.5" fill="none"/>
<path d="M496.6 380.8V525.2H680.4M496.6 525.2v-1.8M517.02 525.2v-1.8M537.44 525.2v-1.8M557.87 525.2v-1.8M578.29 525.2v-1.8M598.71 525.2v-1.8M619.13 525.2v-1.8M639.56 525.2v-1.8M659.98 525.2v-1.8M680.4 525.2v-1.8M496.6 525.2h1.8M496.6 504.57h1.8M496.6 483.94h1.8M496.6 463.31h1.8M496.6 442.69h1.8M496.6 422.06h1.8M496.6 401.43h1.8M496.6 380.8h1.8" stroke="#555555" stroke-width="0.8" fill="none"/>
<text transform="translate(496.6 533.2) rotate(.03)" text-anchor="middle" class="tk">0</text>
<text transform="translate(517.02 533.2) rotate(.03)" text-anchor="middle" class="tk">10</text>
<text transform="translate(537.44 533.2) rotate(.03)" text-anchor="middle" class="tk">20</text>
<text transform="translate(557.87 533.2) rotate(.03)" text-anchor="middle" class="tk">30</text>
<text transform="translate(578.29 533.2) rotate(.03)" text-anchor="middle" class="tk">40</text>
<text transform="translate(598.71 533.2) rotate(.03)" text-anchor="middle" class="tk">50</text>
<text transform="translate(619.13 533.2) rotate(.03)" text-anchor="middle" class="tk">60</text>
<text transform="translate(639.56 533.2) rotate(.03)" text-anchor="middle" class="tk">70</text>
<text transform="translate(659.98 533.2) rotate(.03)" text-anchor="middle" class="tk">80</text>
<text transform="translate(680.4 533.2) rotate(.03)" text-anchor="middle" class="tk">90</text>
<text transform="translate(494.3 527.2) rotate(.03)" text-anchor="end" class="tk">0</text>
<text transform="translate(494.3 506.57) rotate(.03)" text-anchor="end" class="tk">1</text>
<text transform="translate(494.3 485.94) rotate(.03)" text-anchor="end" class="tk">2</text>
<text transform="translate(494.3 465.31) rotate(.03)" text-anchor="end" class="tk">3</text>
<text transform="translate(494.3 444.69) rotate(.03)" text-anchor="end" class="tk">4</text>
<text transform="translate(494.3 424.06) rotate(.03)" text-anchor="end" class="tk">5</text>
<text transform="translate(494.3 403.43) rotate(.03)" text-anchor="end" class="tk">6</text>
<text transform="translate(494.3 382.8) rotate(.03)" text-anchor="end" class="tk">7</text>
<text transform="translate(497.5 379.8) rotate(.03)" class="ex"><tspan font-size="6.6" dy="0.75">×</tspan><tspan dy="-0.75" dx="-0.35">10</tspan><tspan dy="-2.3" dx="0.1" font-size="4.6">4</tspan></text>
<text transform="translate(588.5 377.7) rotate(.03)" text-anchor="middle" class="ti">Azimuth=157.5°</text>
<text transform="translate(588.5 543.5) rotate(.03)" text-anchor="middle" class="lb">lag distance (km)</text>
<text transform="translate(487.2 453) rotate(-89.97)" text-anchor="middle" class="lb">Exp semi-variogram (nT)</text>
<circle cx="512.17" cy="471.36" r="1.3" fill="#ff0000"/>
<circle cx="522.38" cy="432.37" r="1.3" fill="#ff0000"/>
<circle cx="532.59" cy="404.52" r="1.3" fill="#ff0000"/>
<circle cx="542.8" cy="389.26" r="1.3" fill="#ff0000"/>
<circle cx="553.01" cy="384.51" r="1.3" fill="#ff0000"/>
<circle cx="563.22" cy="392.35" r="1.3" fill="#ff0000"/>
<circle cx="573.43" cy="403.08" r="1.3" fill="#ff0000"/>
<circle cx="583.64" cy="404.11" r="1.3" fill="#ff0000"/>
<circle cx="593.86" cy="400.19" r="1.3" fill="#ff0000"/>
<circle cx="604.07" cy="405.97" r="1.3" fill="#ff0000"/>
<circle cx="614.28" cy="421.23" r="1.3" fill="#ff0000"/>
<circle cx="624.49" cy="433.61" r="1.3" fill="#ff0000"/>
<circle cx="634.7" cy="430.72" r="1.3" fill="#ff0000"/>
<circle cx="644.91" cy="425.15" r="1.3" fill="#ff0000"/>
<circle cx="655.12" cy="417.31" r="1.3" fill="#ff0000"/>
<circle cx="665.33" cy="420.2" r="1.3" fill="#ff0000"/>
<circle cx="675.54" cy="440.21" r="1.3" fill="#ff0000"/>
<polyline points="496.6,525.2 497.49,521.54 498.39,517.88 499.28,514.23 500.17,510.58 501.07,506.95 501.96,503.34 502.85,499.75 503.75,496.18 504.64,492.64 505.53,489.13 506.43,485.65 507.32,482.21 508.22,478.81 509.11,475.46 510,472.15 510.9,468.89 511.79,465.69 512.68,462.54 513.58,459.45 514.47,456.43 515.36,453.48 516.26,450.59 517.15,447.78 518.04,445.05 518.94,442.4 519.83,439.83 520.72,437.35 521.62,434.96 522.51,432.67 523.4,430.47 524.3,428.37 525.19,426.38 526.08,424.5 526.98,422.73 527.87,421.07 528.76,419.53 529.66,418.11 530.55,416.82 531.45,415.65 532.34,414.62 533.23,413.72 534.13,412.96 535.02,412.34 535.91,411.86 536.81,411.54 537.7,411.36 538.59,411.33 539.49,411.33 540.38,411.33 541.27,411.33 542.17,411.33 543.06,411.33 543.95,411.33 544.85,411.33 545.74,411.33 546.63,411.33 547.53,411.33 548.42,411.33 549.31,411.33 550.21,411.33 551.1,411.33 552,411.33 552.89,411.33 553.78,411.33 554.68,411.33 555.57,411.33 556.46,411.33 557.36,411.33 558.25,411.33 559.14,411.33 560.04,411.33 560.93,411.33 561.82,411.33 562.72,411.33 563.61,411.33 564.5,411.33 565.4,411.33 566.29,411.33 567.18,411.33 568.08,411.33 568.97,411.33 569.86,411.33 570.76,411.33 571.65,411.33 572.55,411.33 573.44,411.33 574.33,411.33 575.23,411.33 576.12,411.33 577.01,411.33 577.91,411.33 578.8,411.33 579.69,411.33 580.59,411.33 581.48,411.33 582.37,411.33 583.27,411.33 584.16,411.33 585.05,411.33 585.95,411.33 586.84,411.33 587.73,411.33 588.63,411.33 589.52,411.33 590.41,411.33 591.31,411.33 592.2,411.33 593.1,411.33 593.99,411.33 594.88,411.33 595.78,411.33 596.67,411.33 597.56,411.33 598.46,411.33 599.35,411.33 600.24,411.33 601.14,411.33 602.03,411.33 602.92,411.33 603.82,411.33 604.71,411.33 605.6,411.33 606.5,411.33 607.39,411.33 608.28,411.33 609.18,411.33 610.07,411.33 610.96,411.33 611.86,411.33 612.75,411.33 613.64,411.33 614.54,411.33 615.43,411.33 616.33,411.33 617.22,411.33 618.11,411.33 619.01,411.33 619.9,411.33 620.79,411.33 621.69,411.33 622.58,411.33 623.47,411.33 624.37,411.33 625.26,411.33 626.15,411.33 627.05,411.33 627.94,411.33 628.83,411.33 629.73,411.33 630.62,411.33 631.51,411.33 632.41,411.33 633.3,411.33 634.19,411.33 635.09,411.33 635.98,411.33 636.88,411.33 637.77,411.33 638.66,411.33 639.56,411.33 640.45,411.33 641.34,411.33 642.24,411.33 643.13,411.33 644.02,411.33 644.92,411.33 645.81,411.33 646.7,411.33 647.6,411.33 648.49,411.33 649.38,411.33 650.28,411.33 651.17,411.33 652.06,411.33 652.96,411.33 653.85,411.33 654.74,411.33 655.64,411.33 656.53,411.33 657.42,411.33 658.32,411.33 659.21,411.33 660.11,411.33 661,411.33 661.89,411.33 662.79,411.33 663.68,411.33 664.57,411.33 665.47,411.33 666.36,411.33 667.25,411.33 668.15,411.33 669.04,411.33 669.93,411.33 670.83,411.33 671.72,411.33 672.61,411.33 673.51,411.33 674.4,411.33 675.29,411.33" fill="none" stroke="#1f7cc4" stroke-width="1.2" stroke-linejoin="round"/>
<rect x="517" y="489.4" width="159.2" height="28.9" fill="#fff" stroke="#1a1a1a" stroke-width="0.9"/>
<circle cx="531.7" cy="496.8" r="2.4" fill="#ff0000"/>
<path d="M519.7 510.8h33.4" stroke="#4d8fcb" stroke-width="1.6"/>
<text transform="translate(544.1 500.7) rotate(.03)" class="lg" textLength="124.3" lengthAdjust="spacingAndGlyphs">Exp-semi-variogram value</text>
<text transform="translate(560.2 515.2) rotate(.03)" class="lg" textLength="105.2" lengthAdjust="spacingAndGlyphs">Semi-variogram curve</text>
</g>
</svg>
</body>
</html>
